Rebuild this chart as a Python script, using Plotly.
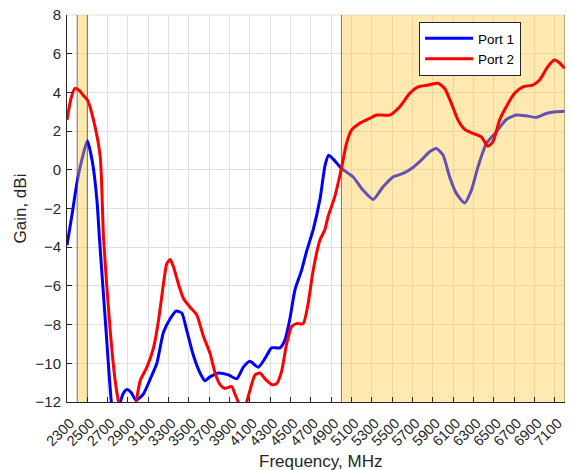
import plotly.graph_objects as go

# ---- data ----
port1_freq = [2300, 2350, 2400, 2450, 2500, 2550, 2595, 2620, 2680, 2740, 2780, 2825, 2860, 2890,
              2930, 2980, 3050, 3120, 3184, 3249, 3315, 3374, 3429, 3478, 3544, 3609, 3658, 3707,
              3790, 3888, 3970, 4035, 4100, 4182, 4248, 4314, 4395, 4444, 4493, 4543, 4608, 4658,
              4722, 4790, 4840, 4875, 4920, 5000, 5115, 5213, 5312, 5410, 5508, 5606, 5704, 5786,
              5868, 5934, 6000, 6065, 6131, 6213, 6279, 6344, 6426, 6524, 6622, 6720, 6819, 6917,
              7015, 7113, 7195]
port1_gain = [-3.9, -2.3, -0.6, 0.6, 1.5, 0.4, -1.6, -3.6, -8.0, -12.2, -13.5, -12.0, -11.5, -11.36,
              -11.5, -11.9, -11.6, -10.8, -10.0, -8.4, -7.7, -7.3, -7.4, -8.3, -9.6, -10.5, -10.9, -10.7,
              -10.5, -10.6, -10.8, -10.2, -9.9, -10.2, -9.75, -9.2, -9.2, -8.8, -7.7, -6.2, -5.2, -4.2,
              -3.1, -1.5, 0.25, 0.75, 0.55, 0.07, -0.37, -1.05, -1.53, -0.88, -0.37, -0.19, 0.12, 0.5,
              0.93, 1.1, 0.76, -0.37, -1.22, -1.71, -1.05, 0.15, 1.36, 1.96, 2.6, 2.83, 2.79, 2.71,
              2.91, 3.0, 3.03]

port2_freq = [2300, 2340, 2380, 2420, 2460, 2502, 2561, 2627, 2660, 2725, 2774, 2807, 2870, 2940,
              2981, 3020, 3086, 3151, 3200, 3249, 3282, 3315, 3347, 3396, 3446, 3511, 3577, 3642,
              3708, 3757, 3806, 3855, 3921, 3953, 3986, 4030, 4068, 4100, 4150, 4199, 4248, 4314,
              4363, 4412, 4461, 4510, 4559, 4624, 4673, 4722, 4788, 4837, 4868, 4934, 5000, 5050,
              5099, 5181, 5279, 5345, 5476, 5574, 5672, 5754, 5852, 5950, 6016, 6082, 6147, 6213,
              6295, 6376, 6442, 6491, 6556, 6622, 6704, 6785, 6883, 6949, 7031, 7096, 7145, 7195]
port2_gain = [2.57, 3.7, 4.22, 4.1, 3.85, 3.6, 2.57, 0.67, -3.6, -8.3, -10.9, -12.0, -13.5, -13.3,
              -12.0, -10.9, -10.2, -9.2, -7.8, -5.9, -4.85, -4.64, -5.0, -5.9, -6.65, -7.1, -7.5, -8.6,
              -9.5, -10.5, -11.1, -11.3, -11.2, -11.6, -12.0, -12.6, -12.0, -11.4, -10.6, -10.5, -10.8, -11.1,
              -11.05, -10.4, -9.0, -8.1, -7.95, -7.95, -6.9, -5.2, -3.64, -3.1, -2.43, -1.4, 0.07, 1.36,
              2.05, 2.4, 2.66, 2.83, 2.83, 3.26, 3.95, 4.29, 4.38, 4.47, 4.2, 3.43, 2.57, 2.09,
              1.88, 1.7, 1.22, 1.45, 2.57, 3.26, 3.95, 4.29, 4.38, 4.64, 5.33, 5.67, 5.53, 5.24]

bands = [(2400, 2500), (5000, 7200)]
y_range = [-12, 8]
x_range = [2300, 7200]
x_ticks = list(range(2300, 7101, 200))
y_ticks = list(range(-12, 9, 2))
x_title = "Frequency, MHz"
y_title = "Gain, dBi"

FONT = "Liberation Sans, Arial, sans-serif"
TXT = "#262626"
GRID = "#e0e0e0"

fig = go.Figure()

fig.add_trace(go.Scatter(x=port1_freq, y=port1_gain, mode="lines", name="Port 1",
                         line=dict(color="#0000ff", width=3, shape="spline", smoothing=0.6)))

# shaded bands (drawn between the two ports)
for (b0, b1) in bands:
    fig.add_trace(go.Scatter(x=[b0, b0, b1, b1, b0],
                             y=[y_range[0], y_range[1], y_range[1], y_range[0], y_range[0]],
                             mode="none", fill="toself", fillcolor="rgba(255,200,60,0.4)",
                             showlegend=False, hoverinfo="skip"))
ex, ey = [], []
for (b0, b1) in bands:
    for b in (b0, b1):
        ex += [b, b, None]
        ey += [y_range[0], y_range[1], None]
fig.add_trace(go.Scatter(x=ex, y=ey, mode="lines", line=dict(color="rgba(40,30,0,0.6)", width=1),
                         showlegend=False, hoverinfo="skip"))

fig.add_trace(go.Scatter(x=port2_freq, y=port2_gain, mode="lines", name="Port 2",
                         line=dict(color="#ff0000", width=3, shape="spline", smoothing=0.6)))

fig.update_layout(
    width=573, height=470,
    margin=dict(l=67, r=8, t=15, b=68, autoexpand=False),
    paper_bgcolor="white", plot_bgcolor="white",
    font=dict(family=FONT, color=TXT, size=15),
    legend=dict(x=0.707, y=0.982, xanchor="left", yanchor="top",
                bgcolor="white", bordercolor=TXT, borderwidth=1,
                itemwidth=48,
                font=dict(size=13.5, color="#000000"), tracegroupgap=0),
    showlegend=True,
    hovermode=False,
    shapes=[dict(type="line", xref="paper", yref="paper", x0=0, x1=1, y0=1, y1=1,
                 line=dict(color=GRID, width=1), layer="below")],
    annotations=[
        dict(text=x_title, xref="paper", yref="paper", x=0.509, y=-0.1525,
             xanchor="center", yanchor="middle", showarrow=False,
             font=dict(size=17, color=TXT)),
        dict(text=y_title, xref="paper", yref="paper", x=-0.0924, y=0.5, textangle=-90,
             xanchor="center", yanchor="middle", showarrow=False,
             font=dict(size=17, color=TXT)),
    ],
)
fig.update_xaxes(range=x_range, tickvals=x_ticks, tickangle=-45, automargin=False,
                 showgrid=True, gridcolor=GRID, gridwidth=1,
                 showline=True, linecolor=TXT, linewidth=1,
                 ticks="inside", ticklen=5, tickcolor=TXT,
                 ticklabelstandoff=6, ticklabelshift=3, ticklabeloverflow="allow",
                 tickfont=dict(size=14.5, color=TXT), zeroline=False)
fig.update_yaxes(range=y_range, tickvals=y_ticks, automargin=False,
                 showgrid=True, gridcolor=GRID, gridwidth=1,
                 showline=True, linecolor=TXT, linewidth=1,
                 ticks="inside", ticklen=5, tickcolor=TXT,
                 ticklabelstandoff=2, ticklabeloverflow="allow",
                 tickfont=dict(size=15, color=TXT), zeroline=False)

# remove the browser's default 8px page margin so the figure fills the window exactly
fig.write_html("out.html", config={"displayModeBar": False},
               post_script="document.body.style.margin='0px';")
